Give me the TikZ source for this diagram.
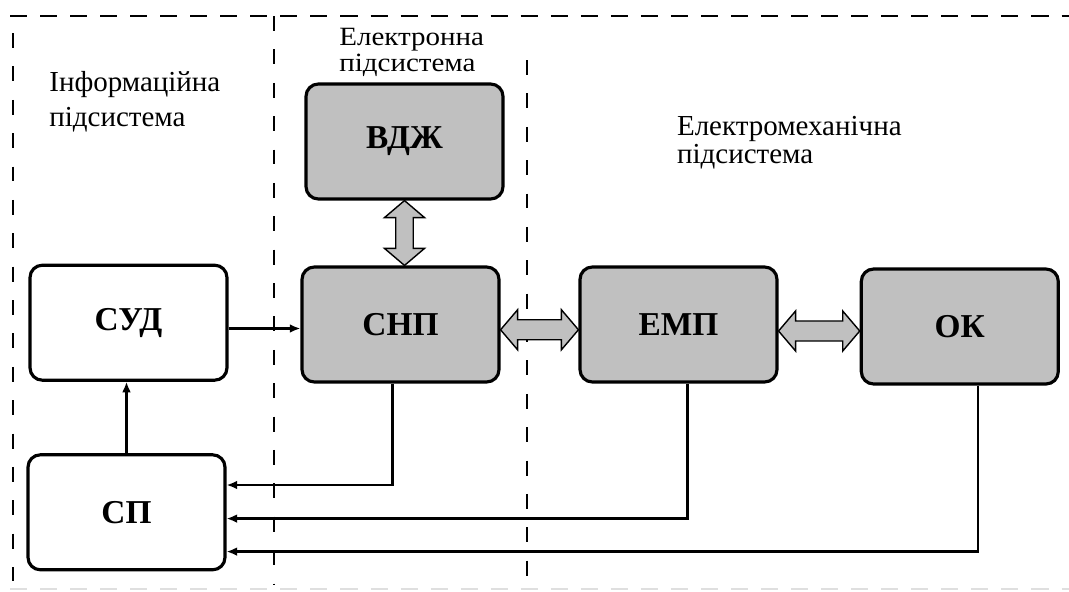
\documentclass[tikz,border=0pt]{standalone}
\usepackage{fontspec}
\setmainfont{Liberation Serif}
\newfontfamily\widefont[FakeStretch=1.1]{Liberation Serif}
\usetikzlibrary{arrows.meta,calc}
\definecolor{boxgray}{RGB}{192,192,192}
\tikzset{
  blk/.style={draw, line width=1.8pt, rounded corners=7pt, minimum width=3.94cm,
    minimum height=2.3cm, inner sep=0pt, font=\fontsize{19}{21}\selectfont\bfseries},
  grayblk/.style={blk, fill=boxgray},
  whiteblk/.style={blk, fill=white},
  conn/.style={line width=1.3pt, -{Latex[length=6pt,width=5pt]}},
  boundv/.style={line width=1.6pt, dash pattern=on 8.5pt off 10.5pt},
  boundh/.style={line width=1.6pt, dash pattern=on 9.7pt off 7.4pt},
  fat/.style={draw, line width=0.8pt, fill=boxgray, line join=miter},
  lbl/.style={anchor=base west, inner sep=0pt, align=left},
}
\newcommand{\hblockarrow}[2]{%
  \path[fat] let \p1=(#1), \p2=(#2) in
    (\x1,\y1) -- (\x1+9.7pt,\y1+11.4pt) -- (\x1+9.7pt,\y1+5.7pt)
    -- (\x2-9.7pt,\y1+5.7pt) -- (\x2-9.7pt,\y1+11.4pt) -- (\x2,\y1)
    -- (\x2-9.7pt,\y1-11.4pt) -- (\x2-9.7pt,\y1-5.7pt)
    -- (\x1+9.7pt,\y1-5.7pt) -- (\x1+9.7pt,\y1-11.4pt) -- cycle;}
\newcommand{\vblockarrow}[2]{%
  \path[fat] let \p1=(#1), \p2=(#2) in
    (\x1,\y1) -- (\x1+11.4pt,\y1-9.7pt) -- (\x1+5pt,\y1-9.7pt)
    -- (\x1+5pt,\y2+9.7pt) -- (\x1+11.4pt,\y2+9.7pt) -- (\x1,\y2)
    -- (\x1-11.4pt,\y2+9.7pt) -- (\x1-5pt,\y2+9.7pt)
    -- (\x1-5pt,\y1-9.7pt) -- (\x1-11.4pt,\y1-9.7pt) -- cycle;}
\begin{document}
\begin{tikzpicture}[x=0.02cm, y=-0.02cm]
\useasboundingbox (0,0) rectangle (1069,592);
% subsystem boundaries
\draw[boundh] (10,16) -- (1069,16);
\draw[boundh, gray!25] (10,589) -- (1069,589);
\draw[boundv] (13,33) -- (13,581);
\draw[boundv] (274,16) -- (274,585);
\draw[boundv] (527,60) -- (527,590);
% labels (anchor = baseline of the last line)
\node[lbl, font=\fontsize{16.5}{20}\selectfont] (info) at (49,126.7) {Інформаційна\\підсистема};
\node[lbl, font=\widefont\fontsize{15}{14.8}\selectfont] (elec) at (339,71.7) {Електронна\\підсистема};
\node[lbl, font=\fontsize{16.5}{16.1}\selectfont] (emech) at (676.7,163.3) {Електромеханічна\\підсистема};
% blocks
\node[grayblk] (vdzh) at (404.5,141.5) {ВДЖ};
\node[whiteblk] (sud) at (128.5,322.7) {СУД};
\node[grayblk] (snp) at (400.5,324.5) {СНП};
\node[whiteblk] (sp) at (126.5,512.3) {СП};
\node[grayblk] (emp) at (678.5,324.5) {ЕМП};
\node[grayblk] (ok) at (959.8,326.5) {ОК};
% block arrows
\vblockarrow{vdzh.south}{vdzh.south |- snp.north}
\hblockarrow{[yshift=-3pt]snp.east}{emp.west}
\hblockarrow{[yshift=-3.7pt]emp.east}{ok.west}
% signal connectors
\draw[conn] ([yshift=-3.3pt]sud.east) -- ([yshift=-3.3pt]sud.east -| snp.west);
\draw[conn] (sp.north) -- (sp.north |- sud.south);
\draw[conn] (392.6,0 |- snp.south) |- (sp.east |- 0,485);
\draw[conn] (687.6,0 |- emp.south) |- (sp.east |- 0,518.6);
\draw[conn] (978,0 |- ok.south) |- (sp.east |- 0,551.6);
\end{tikzpicture}
\end{document}
